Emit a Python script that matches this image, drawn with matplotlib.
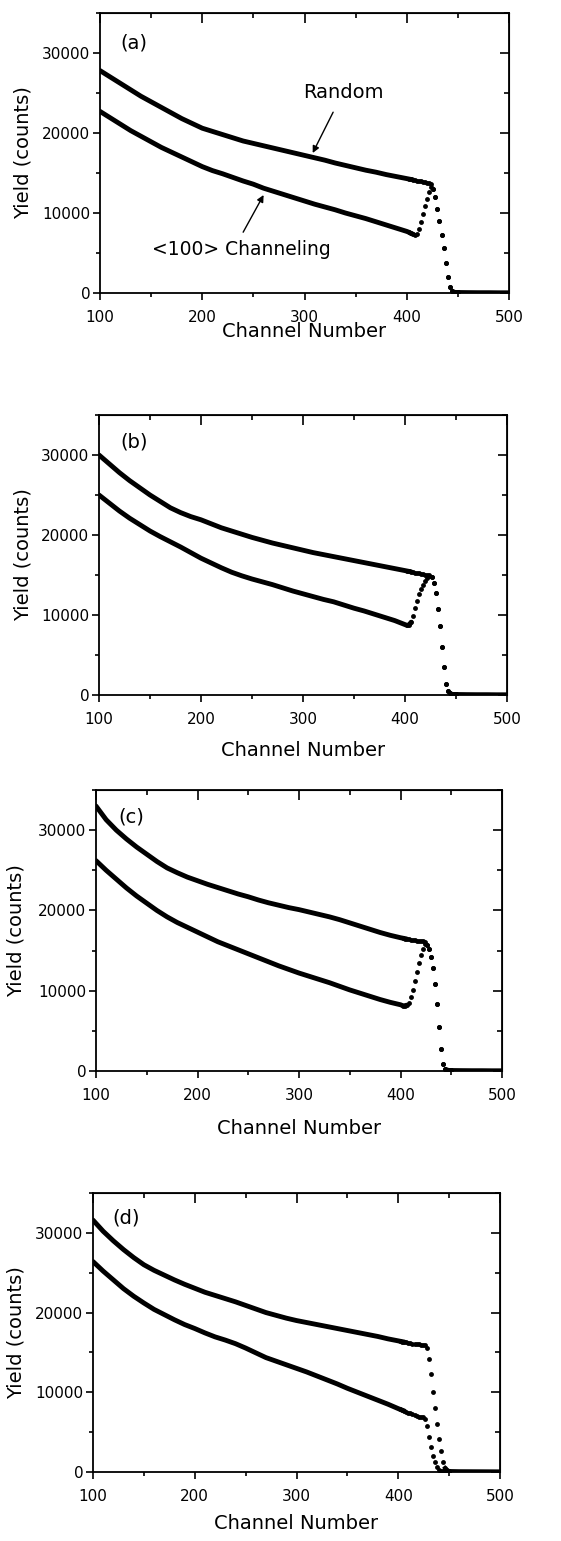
import numpy as np
import matplotlib.pyplot as plt
from matplotlib.ticker import MultipleLocator

# channel grid: coarse on the smooth part, fine across the surface edge
channels = list(range(100, 401, 10)) + list(range(402, 451, 2)) + list(range(460, 501, 10))

random_a = [27800, 27000, 26200, 25400, 24600, 23900, 23200, 22500, 21800, 21200,
            20600, 20200, 19800, 19400, 19000, 18700, 18400, 18100, 17800, 17500,
            17200, 16900, 16600, 16250, 15950, 15650, 15350, 15100, 14800, 14550, 14300,
            14250, 14200, 14150, 14100, 14050, 14000, 13950, 13900, 13850, 13800, 13750, 13600,
            13000, 12000, 10500, 9000, 7300, 5600, 3800, 2000, 700, 250, 150, 100, 80,
            60, 50, 50, 40, 40]
channel_a = [22700, 21900, 21100, 20300, 19600, 18900, 18200, 17600, 17000, 16400,
             15800, 15300, 14900, 14450, 14000, 13600, 13100, 12700, 12300, 11900,
             11500, 11100, 10750, 10400, 10000, 9650, 9300, 8900, 8500, 8100, 7700,
             7600, 7450, 7350, 7250, 7400, 8000, 8900, 9900, 10900, 11800, 12600, 13200,
             13000, 12000, 10500, 9000, 7300, 5600, 3800, 2000, 700, 250, 150, 100, 80,
             60, 50, 50, 40, 40]

random_b = [30000, 28900, 27800, 26800, 25900, 25000, 24200, 23400, 22800, 22300,
            21900, 21400, 20900, 20500, 20100, 19700, 19350, 19000, 18700, 18400,
            18100, 17800, 17550, 17300, 17050, 16800, 16550, 16300, 16050, 15800, 15550,
            15500, 15450, 15400, 15350, 15300, 15250, 15200, 15150, 15100, 15050, 15000, 14950,
            14700, 14000, 12800, 10800, 8600, 6000, 3500, 1400, 500, 200, 120, 100, 80,
            60, 50, 50, 40, 40]
channel_b = [25000, 24000, 23000, 22100, 21300, 20500, 19800, 19150, 18500, 17800,
             17100, 16500, 15900, 15350, 14900, 14500, 14150, 13800, 13400, 13000,
             12650, 12300, 11950, 11650, 11250, 10850, 10500, 10100, 9700, 9300, 8800,
             8700, 8750, 9100, 9900, 10900, 11800, 12600, 13200, 13700, 14200, 14600, 14900,
             14700, 14000, 12800, 10800, 8600, 6000, 3500, 1400, 500, 200, 120, 100, 80,
             60, 50, 50, 40, 40]

random_c = [33000, 31300, 30000, 28900, 27900, 27000, 26100, 25300, 24700, 24150,
            23700, 23250, 22850, 22450, 22050, 21700, 21300, 20950, 20650, 20350,
            20100, 19800, 19500, 19200, 18850, 18450, 18050, 17650, 17250, 16900, 16600,
            16550, 16500, 16450, 16400, 16350, 16300, 16300, 16250, 16250, 16200, 16150, 16050,
            15700, 15200, 14200, 12800, 10800, 8300, 5500, 2800, 900, 300, 150, 100, 80,
            60, 50, 50, 40, 40]
channel_c = [26200, 25000, 23900, 22800, 21800, 20900, 20000, 19200, 18500, 17900,
             17300, 16700, 16100, 15600, 15100, 14600, 14100, 13600, 13100, 12650,
             12200, 11800, 11400, 11000, 10550, 10100, 9700, 9300, 8900, 8550, 8250,
             8150, 8100, 8200, 8500, 9200, 10100, 11200, 12300, 13400, 14400, 15200, 15800,
             15700, 15200, 14200, 12800, 10800, 8300, 5500, 2800, 900, 300, 150, 100, 80,
             60, 50, 50, 40, 40]

random_d = [31600, 30200, 29000, 27900, 26900, 26000, 25300, 24700, 24100, 23550,
            23050, 22550, 22150, 21750, 21350, 20900, 20450, 20000, 19650, 19300,
            19000, 18750, 18500, 18250, 18000, 17750, 17500, 17250, 17000, 16700, 16450,
            16400, 16350, 16300, 16250, 16200, 16150, 16100, 16050, 16000, 16000, 15950, 15950,
            15900, 15500, 14200, 12300, 10000, 8000, 6000, 4200, 2600, 1300, 500, 200, 100,
            60, 50, 50, 40, 40]
channel_d = [26400, 25200, 24100, 23000, 22050, 21200, 20400, 19750, 19100, 18500,
             18000, 17450, 16950, 16550, 16100, 15550, 14950, 14350, 13900, 13450,
             13000, 12550, 12050, 11550, 11050, 10500, 10000, 9500, 9000, 8500, 7950,
             7850, 7750, 7650, 7550, 7450, 7350, 7250, 7100, 7000, 6900, 6850, 6850,
             6700, 5800, 4400, 3100, 2000, 1200, 600, 300, 150, 100, 80, 70, 60,
             50, 50, 40, 40, 30]

panel_labels = ["(a)", "(b)", "(c)", "(d)"]
panel_data = [(random_a, channel_a), (random_b, channel_b),
              (random_c, channel_c), (random_d, channel_d)]

W, H = 561, 1541
# axes boxes in pixels: left, top, right, bottom
boxes = [(100, 13, 509, 293), (99, 415, 507, 695), (96, 790, 502, 1071), (93, 1193, 500, 1472)]
label_pos = [(120, 31300), (121, 31650), (122, 31600), (119, 31850)]
xlabel_top = [322, 741, 1119, 1514]
ylabel_x = [33, 33, 26, 26]

plt.rcParams["font.family"] = ["DejaVu Sans"]

fig = plt.figure(figsize=(W / 100, H / 100), dpi=100)

ch = np.array(channels)
for i, (lab, (rnd, chn)) in enumerate(zip(panel_labels, panel_data)):
    l, t, r, b = boxes[i]
    ax = fig.add_axes([l / W, 1 - b / H, (r - l) / W, (b - t) / H])

    for vals in (rnd, chn):
        y = np.array(vals)
        smooth = ch <= 406
        tail = ch >= 446
        edge = (ch >= 402) & (ch <= 450)
        ax.plot(ch[smooth], y[smooth], color="black", lw=3.5, solid_capstyle="round")
        ax.plot(ch[tail], y[tail], color="black", lw=3.0)
        ax.plot(ch[edge], y[edge], "o", color="black", ms=3.5, mec="none")

    ax.set_xlim(100, 500)
    ax.set_ylim(0, 35000)
    ax.xaxis.set_major_locator(MultipleLocator(100))
    ax.xaxis.set_minor_locator(MultipleLocator(50))
    ax.yaxis.set_major_locator(MultipleLocator(10000))
    ax.yaxis.set_minor_locator(MultipleLocator(5000))
    ax.tick_params(which="both", direction="out", width=1.2, labelsize=11)
    ax.tick_params(axis="x", which="major", length=5, pad=7)
    ax.tick_params(axis="y", which="major", length=5, pad=2)
    ax.tick_params(which="minor", length=3)
    for s in ax.spines.values():
        s.set_linewidth(1.3)

    # top and right ticks point inward
    top = ax.secondary_xaxis("top")
    top.xaxis.set_major_locator(MultipleLocator(100))
    top.xaxis.set_minor_locator(MultipleLocator(50))
    top.tick_params(which="both", direction="in", width=1.2, labeltop=False)
    top.tick_params(which="major", length=7)
    top.tick_params(which="minor", length=3.5)
    right = ax.secondary_yaxis("right")
    right.yaxis.set_major_locator(MultipleLocator(10000))
    right.yaxis.set_minor_locator(MultipleLocator(5000))
    right.tick_params(which="both", direction="in", width=1.2, labelright=False)
    right.tick_params(which="major", length=6.5)
    right.tick_params(which="minor", length=3.5)

    ax.set_xlabel("Channel Number", fontsize=14)
    ax.set_ylabel("Yield (counts)", fontsize=14)
    ax.xaxis.set_label_coords(0.5, -(xlabel_top[i] - b) / (b - t))
    ax.yaxis.set_label_coords((ylabel_x[i] - l) / (r - l), 0.5)

    ax.text(label_pos[i][0], label_pos[i][1], lab, fontsize=14, ha="left", va="center")

    if i == 0:
        ax.text(338, 25000, "Random", fontsize=14, ha="center", va="center")
        ax.annotate("", xy=(308, 17500), xytext=(328, 22600),
                    arrowprops=dict(arrowstyle="-|>", color="black", lw=1,
                                    mutation_scale=10, shrinkA=0, shrinkB=0))
        ax.text(238, 5400, "<100> Channeling", fontsize=13.5, ha="center", va="center")
        ax.annotate("", xy=(260, 12250), xytext=(240, 7600),
                    arrowprops=dict(arrowstyle="-|>", color="black", lw=1,
                                    mutation_scale=10, shrinkA=0, shrinkB=0))

fig.savefig("out.png", dpi=100)
